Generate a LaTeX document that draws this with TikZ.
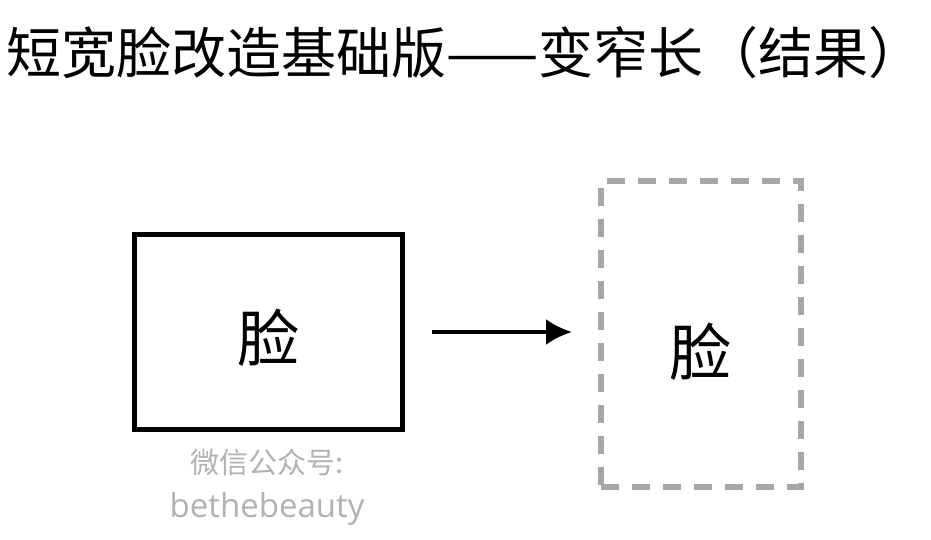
\documentclass[tikz,border=0pt]{standalone}
\usepackage{fontspec}
\usetikzlibrary{arrows.meta}
\setmainfont{Noto Sans CJK SC}
\newfontfamily\latn{Open Sans}
\begin{document}
\begin{tikzpicture}[x=1pt,y=1pt,
  facebox/.style={draw=black,line width=5pt,minimum width=268pt,minimum height=195pt,inner sep=0},
  dashbox/.style={draw=black!35,line width=6pt,dash pattern=on 18pt off 13pt,minimum width=200pt,minimum height=306pt,inner sep=0},
  wm/.style={text=black!30}]
\useasboundingbox (0,0) rectangle (931,540);
\node[anchor=west,inner sep=0pt,font=\fontsize{55}{58}\selectfont] (title) at (6,487) {短宽脸改造基础版——变窄长（结果）};
\node[facebox] (a) at (268.5,207.5) {};
\node[font=\fontsize{62}{66}\selectfont] (at) at (268,202) {脸};
\node[dashbox] (b) at (700.5,206) {};
\node[font=\fontsize{62}{66}\selectfont] (bt) at (700,188) {脸};
\coordinate (s) at (432,208);
\coordinate (e) at (572,208);
\draw[line width=4pt,-{Latex[length=26pt,width=26pt]}] (s) -- (e);
\node[wm,font=\fontsize{29}{31}\selectfont] (w1) at (267,78) {微信公众号:};
\node[wm,font=\latn\fontsize{33}{35}\selectfont] (w2) at (267,31) {bethebeauty};
\end{tikzpicture}
\end{document}
